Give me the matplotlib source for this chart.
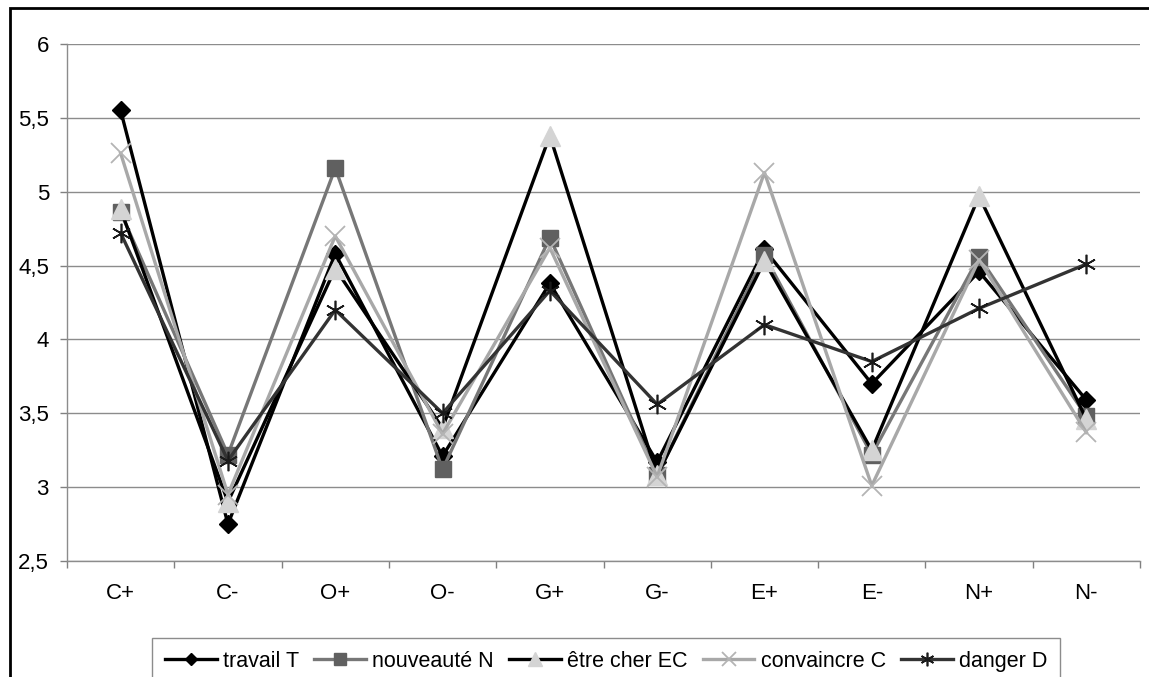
import matplotlib
matplotlib.use("Agg")
import matplotlib.pyplot as plt
from matplotlib.patches import Rectangle
from matplotlib.ticker import FixedLocator

plt.rcParams["font.family"] = ["Liberation Sans", "DejaVu Sans"]

categories = ["C+", "C-", "O+", "O-", "G+", "G-", "E+", "E-", "N+", "N-"]

travail = [5.55, 2.75, 4.58, 3.21, 4.38, 3.17, 4.61, 3.70, 4.46, 3.59]
nouveaute = [4.86, 3.22, 5.16, 3.12, 4.69, 3.08, 4.57, 3.22, 4.56, 3.48]
etre_cher = [4.88, 2.90, 4.48, 3.40, 5.38, 3.08, 4.53, 3.25, 4.97, 3.46]
convaincre = [5.26, 2.95, 4.70, 3.36, 4.62, 3.07, 5.13, 3.01, 4.54, 3.37]
danger = [4.72, 3.18, 4.20, 3.50, 4.33, 3.56, 4.10, 3.85, 4.21, 4.51]

series = [
    ("travail T", travail, dict(color="#000000", marker="D", ms=9,
                                mfc="#000000", mec="#000000", mew=1)),
    ("nouveauté N", nouveaute, dict(color="#777777", marker="s", ms=12,
                                    mfc="#606060", mec="#606060", mew=1)),
    ("être cher EC", etre_cher, dict(color="#000000", marker="^", ms=14,
                                     mfc="#d4d4d4", mec="#d4d4d4", mew=1)),
    ("convaincre C", convaincre, dict(color="#a8a8a8", marker="x", ms=14,
                                      mfc="#b4b4b4", mec="#b4b4b4", mew=1.3)),
    ("danger D", danger, dict(color="#333333", marker=(6, 2, 0), ms=14,
                              mfc="#1a1a1a", mec="#1a1a1a", mew=1.2)),
]

fig = plt.figure(figsize=(11.49, 6.77), dpi=100)
ax = fig.add_axes([67 / 1149, 1 - 561 / 677, (1140 - 67) / 1149, (561 - 44) / 677])

x = list(range(len(categories)))
for label, vals, st in series:
    ax.plot(x, vals, label=label, lw=2.4, clip_on=False, **st)

ax.set_xlim(-0.5, len(categories) - 0.5)
ax.set_ylim(2.5, 6)
yt = [2.5, 3, 3.5, 4, 4.5, 5, 5.5, 6]
ax.set_yticks(yt)
ax.set_yticklabels([f"{v:g}".replace(".", ",") for v in yt])
ax.set_xticks(x)
ax.set_xticklabels(categories)
ax.xaxis.set_minor_locator(FixedLocator([i - 0.5 for i in range(len(categories) + 1)]))
ax.tick_params(axis="x", which="major", length=0, pad=16, labelsize=16)
ax.tick_params(axis="x", which="minor", length=5, width=1, color="#808080", direction="out")
ax.tick_params(axis="y", length=5, width=1, color="#808080", pad=8, labelsize=16)

ax.grid(axis="y", color="#8c8c8c", lw=1)
ax.set_axisbelow(True)
for s in ["top", "right"]:
    ax.spines[s].set_visible(False)
for s in ["left", "bottom"]:
    ax.spines[s].set_color("#8c8c8c")
    ax.spines[s].set_linewidth(1)

leg = fig.legend(loc="upper left", bbox_to_anchor=(152 / 1149, 1 - 638 / 677),
                 ncol=5, fontsize=15.5, frameon=True, fancybox=False,
                 edgecolor="#707070", handlelength=2.4, handletextpad=0.3,
                 columnspacing=0.7, borderpad=0.6, borderaxespad=0,
                 markerscale=0.7)
leg.get_frame().set_linewidth(1)

# outer chart frame (cropped on the right and bottom)
fig.patches.append(Rectangle((10 / 1149, -0.5), 1.2, 1 - 8 / 677 + 0.5,
                             transform=fig.transFigure, fill=False,
                             edgecolor="black", lw=2))

fig.savefig("out.png", dpi=100)
